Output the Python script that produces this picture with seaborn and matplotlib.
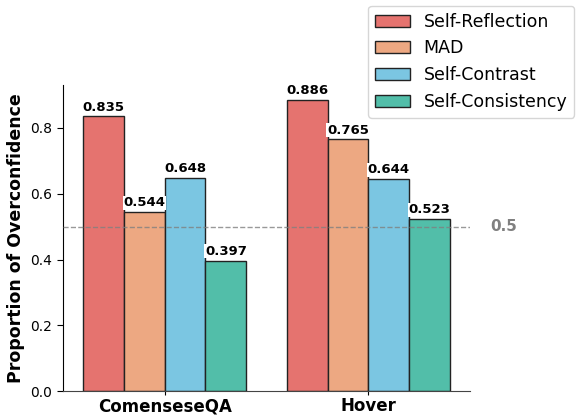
import pandas as pd
import numpy as np
import seaborn as sns
import matplotlib.pyplot as plt

datasets = ["ComenseseQA", "Hover"]
methods = ["Self-Reflection", "MAD", "Self-Contrast", "Self-Consistency"]
self_reflection = [0.835, 0.886]
mad = [0.544, 0.765]
self_contrast = [0.648, 0.644]
self_consistency = [0.397, 0.523]
colors = ["#E5736F", "#EDA882", "#7BC6E2", "#52BEA9"]

rows = []
for m, vals in zip(methods, [self_reflection, mad, self_contrast, self_consistency]):
    for d, v in zip(datasets, vals):
        rows.append({"Dataset": d, "Method": m, "Value": v})
df = pd.DataFrame(rows)

plt.rcParams["font.family"] = ["DejaVu Sans"]
fig, ax = plt.subplots(figsize=(5.77, 4.17), dpi=100)
fig.subplots_adjust(left=0.109, right=0.815, top=0.796, bottom=0.062)

sns.barplot(data=df, x="Dataset", y="Value", hue="Method", palette=colors,
            edgecolor="#222222", linewidth=1, saturation=1, ax=ax, width=0.8)

for c in ax.containers:
    ax.bar_label(c, fmt="%.3f", fontsize=9.5, fontweight="bold", padding=2,
                 bbox=dict(facecolor="white", edgecolor="none", pad=0.5))

ax.axhline(0.5, color="gray", linestyle="--", linewidth=1, alpha=0.8, zorder=5)
ax.text(1.05, 0.5, "0.5", transform=ax.get_yaxis_transform(), color="gray",
        fontsize=11, fontweight="bold", va="center", ha="left")

ax.set_ylim(0, max(self_reflection) * 1.05)
ax.set_xlabel("")
ax.set_ylabel("Proportion of Overconfidence", fontsize=12.5, fontweight="bold")
ax.tick_params(axis="x", labelsize=12, length=3, pad=1.5)
for t in ax.get_xticklabels():
    t.set_fontweight("bold")
ax.tick_params(axis="y", labelsize=10, length=4)
sns.despine(ax=ax)
ax.spines["bottom"].set_color("#444444")

ax.legend(loc="upper left", bbox_to_anchor=(0.638, 0.986), bbox_transform=fig.transFigure,
          borderaxespad=0, fontsize=12.5, frameon=True)

fig.savefig("out.png", dpi=100)
